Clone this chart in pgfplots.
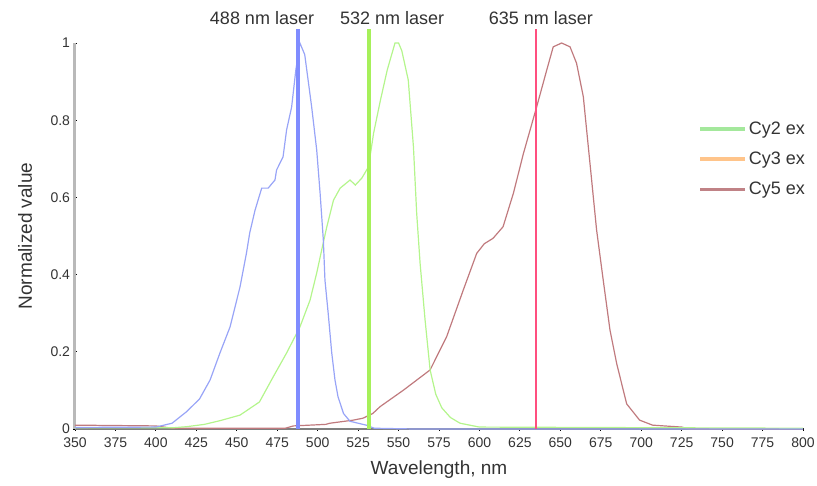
\documentclass[border=0pt]{standalone}
\usepackage{fontspec}
\setmainfont{Liberation Sans}
\usepackage{pgfplots}
\pgfplotsset{compat=1.18}
\definecolor{txt}{HTML}{333333}
\definecolor{cyblue}{HTML}{98A4F7}
\definecolor{cygreen}{HTML}{B4F58C}
\definecolor{cybrown}{HTML}{C07A7E}
\definecolor{legreen}{HTML}{A4E89C}
\definecolor{leorange}{HTML}{FFC48A}
\definecolor{lebrown}{HTML}{C08286}
\definecolor{lzblue}{HTML}{7F8CFF}
\definecolor{lzgreen}{HTML}{A6F05A}
\definecolor{lzred}{HTML}{FF4F7F}

\begin{document}
\begin{tikzpicture}
\begin{axis}[
  scale only axis, width=728pt, height=386pt,
  xmin=350, xmax=800, ymin=0, ymax=1,
  xtick={350,375,...,800},
  ytick={0,0.2,0.4,0.6,0.8,1},
  yticklabels={0,0.2,0.4,0.6,0.8,1},
  axis x line=bottom, axis y line=left,
  axis line style={-},
  x axis line style={draw=gray, line width=1.2pt},
  y axis line style={draw=gray!55, line width=3pt},
  major tick length=3pt,
  tick style={black, line width=0.8pt},
  clip=false,
  /pgf/number format/assume math mode=true,
  tick label style={font=\fontsize{14}{16}\selectfont, text=txt},
  x tick label style={yshift=-4pt},
  xlabel={Wavelength, nm},
  ylabel={Normalized value},
  label style={font=\fontsize{19}{22}\selectfont, text=txt},
  x label style={at={(rel axis cs:0.5,0)}, anchor=center, yshift=-41pt},
  y label style={at={(rel axis cs:0,0.5)}, anchor=center, yshift=50pt},
  legend style={draw=none, fill=none, at={(rel axis cs:0.852,0.806)}, anchor=north west,
    font=\fontsize{18}{20}\selectfont, text=txt, row sep=12pt},
  legend cell align=left,
  legend image code/.code={\draw[#1, line width=3.5pt] (0pt,0pt) -- (45pt,0pt);},
]
% legend entries (as in the source)
\addlegendimage{legreen}
\addlegendentry{Cy2 ex}
\addlegendimage{leorange}
\addlegendentry{Cy3 ex}
\addlegendimage{lebrown}
\addlegendentry{Cy5 ex}

% brown curve
\addplot[forget plot, cybrown, line width=1.2pt] coordinates {
  (350,0.01)(400,0.008)(410,0.002)(480,0.002)(485,0.008)(505,0.012)
  (507.6,0.015)(522,0.023)(528,0.028)(534,0.04)(538.6,0.058)(552.8,0.10)
  (569.5,0.153)(579.8,0.24)(590,0.36)(598.3,0.455)(603,0.48)(608.4,0.494)
  (614.6,0.524)(621,0.611)(627.2,0.714)(635.4,0.835)(641.6,0.93)(645.6,0.99)
  (650.8,1.0)(656,0.99)(660,0.948)(664.2,0.861)(668.3,0.689)(672.4,0.516)
  (676.5,0.386)(680.7,0.256)(684.8,0.17)(691,0.065)(699,0.023)(707,0.01)
  (725,0.005)(730,0)(800,0)
};
% green curve
\addplot[forget plot, cygreen, line width=1.2pt] coordinates {
  (350,0.003)(410,0.003)(419,0.006)(430,0.012)(440,0.022)(452,0.036)
  (464,0.07)(472.5,0.135)(480.8,0.197)(489,0.264)(495.3,0.334)(499.4,0.404)
  (502.5,0.464)(505.6,0.523)(509.8,0.593)(513.9,0.624)(520,0.645)(523.3,0.632)
  (527.3,0.650)(531.4,0.679)(534.6,0.767)(538.7,0.85)(543,0.93)(547.8,1.0)
  (550,1.0)(552,0.98)(556,0.904)(559.2,0.731)(561.2,0.559)(563.3,0.43)
  (566.4,0.282)(569.5,0.153)(573,0.09)(576.7,0.055)(582,0.03)(588,0.015)
  (600,0.005)(800,0.002)
};
% blue curve
\addplot[forget plot, cyblue, line width=1.2pt] coordinates {
  (350,0.004)(400,0.005)(410,0.015)(419,0.045)(427,0.078)(433.5,0.127)
  (439.6,0.197)(445.8,0.264)(452,0.368)(456,0.456)(458,0.508)(461.3,0.567)
  (465.4,0.624)(469.4,0.624)(473.6,0.645)(474.6,0.671)(478.6,0.705)(480.8,0.775)
  (483.9,0.834)(486.5,0.93)(489,1.0)(492,0.97)(496.3,0.834)(499.4,0.723)
  (501.5,0.611)(503.5,0.49)(504.5,0.386)(506.5,0.30)(508.7,0.197)(510.7,0.127)
  (512.6,0.083)(516,0.04)(520,0.02)(530,0.01)(535,0.002)(560,0)(800,0)
};

% laser lines
\addplot[forget plot, lzblue, line width=4pt] coordinates {(488,0)(488,1.035)};
\addplot[forget plot, lzgreen, line width=4pt] coordinates {(532,0)(532,1.035)};
\addplot[forget plot, lzred, line width=2.5pt] coordinates {(635,0)(635,1.035)};

\node[font=\fontsize{18}{20}\selectfont, text=txt] at (axis cs:465.6,1.065) {488 nm laser};
\node[font=\fontsize{18}{20}\selectfont, text=txt] at (axis cs:546,1.065) {532 nm laser};
\node[font=\fontsize{18}{20}\selectfont, text=txt] at (axis cs:638,1.065) {635 nm laser};
\end{axis}
\pgfresetboundingbox
\path ([shift={(-75pt,-56pt)}]current axis.south west) rectangle ([shift={(14pt,43pt)}]current axis.north east);
\end{tikzpicture}
\end{document}
